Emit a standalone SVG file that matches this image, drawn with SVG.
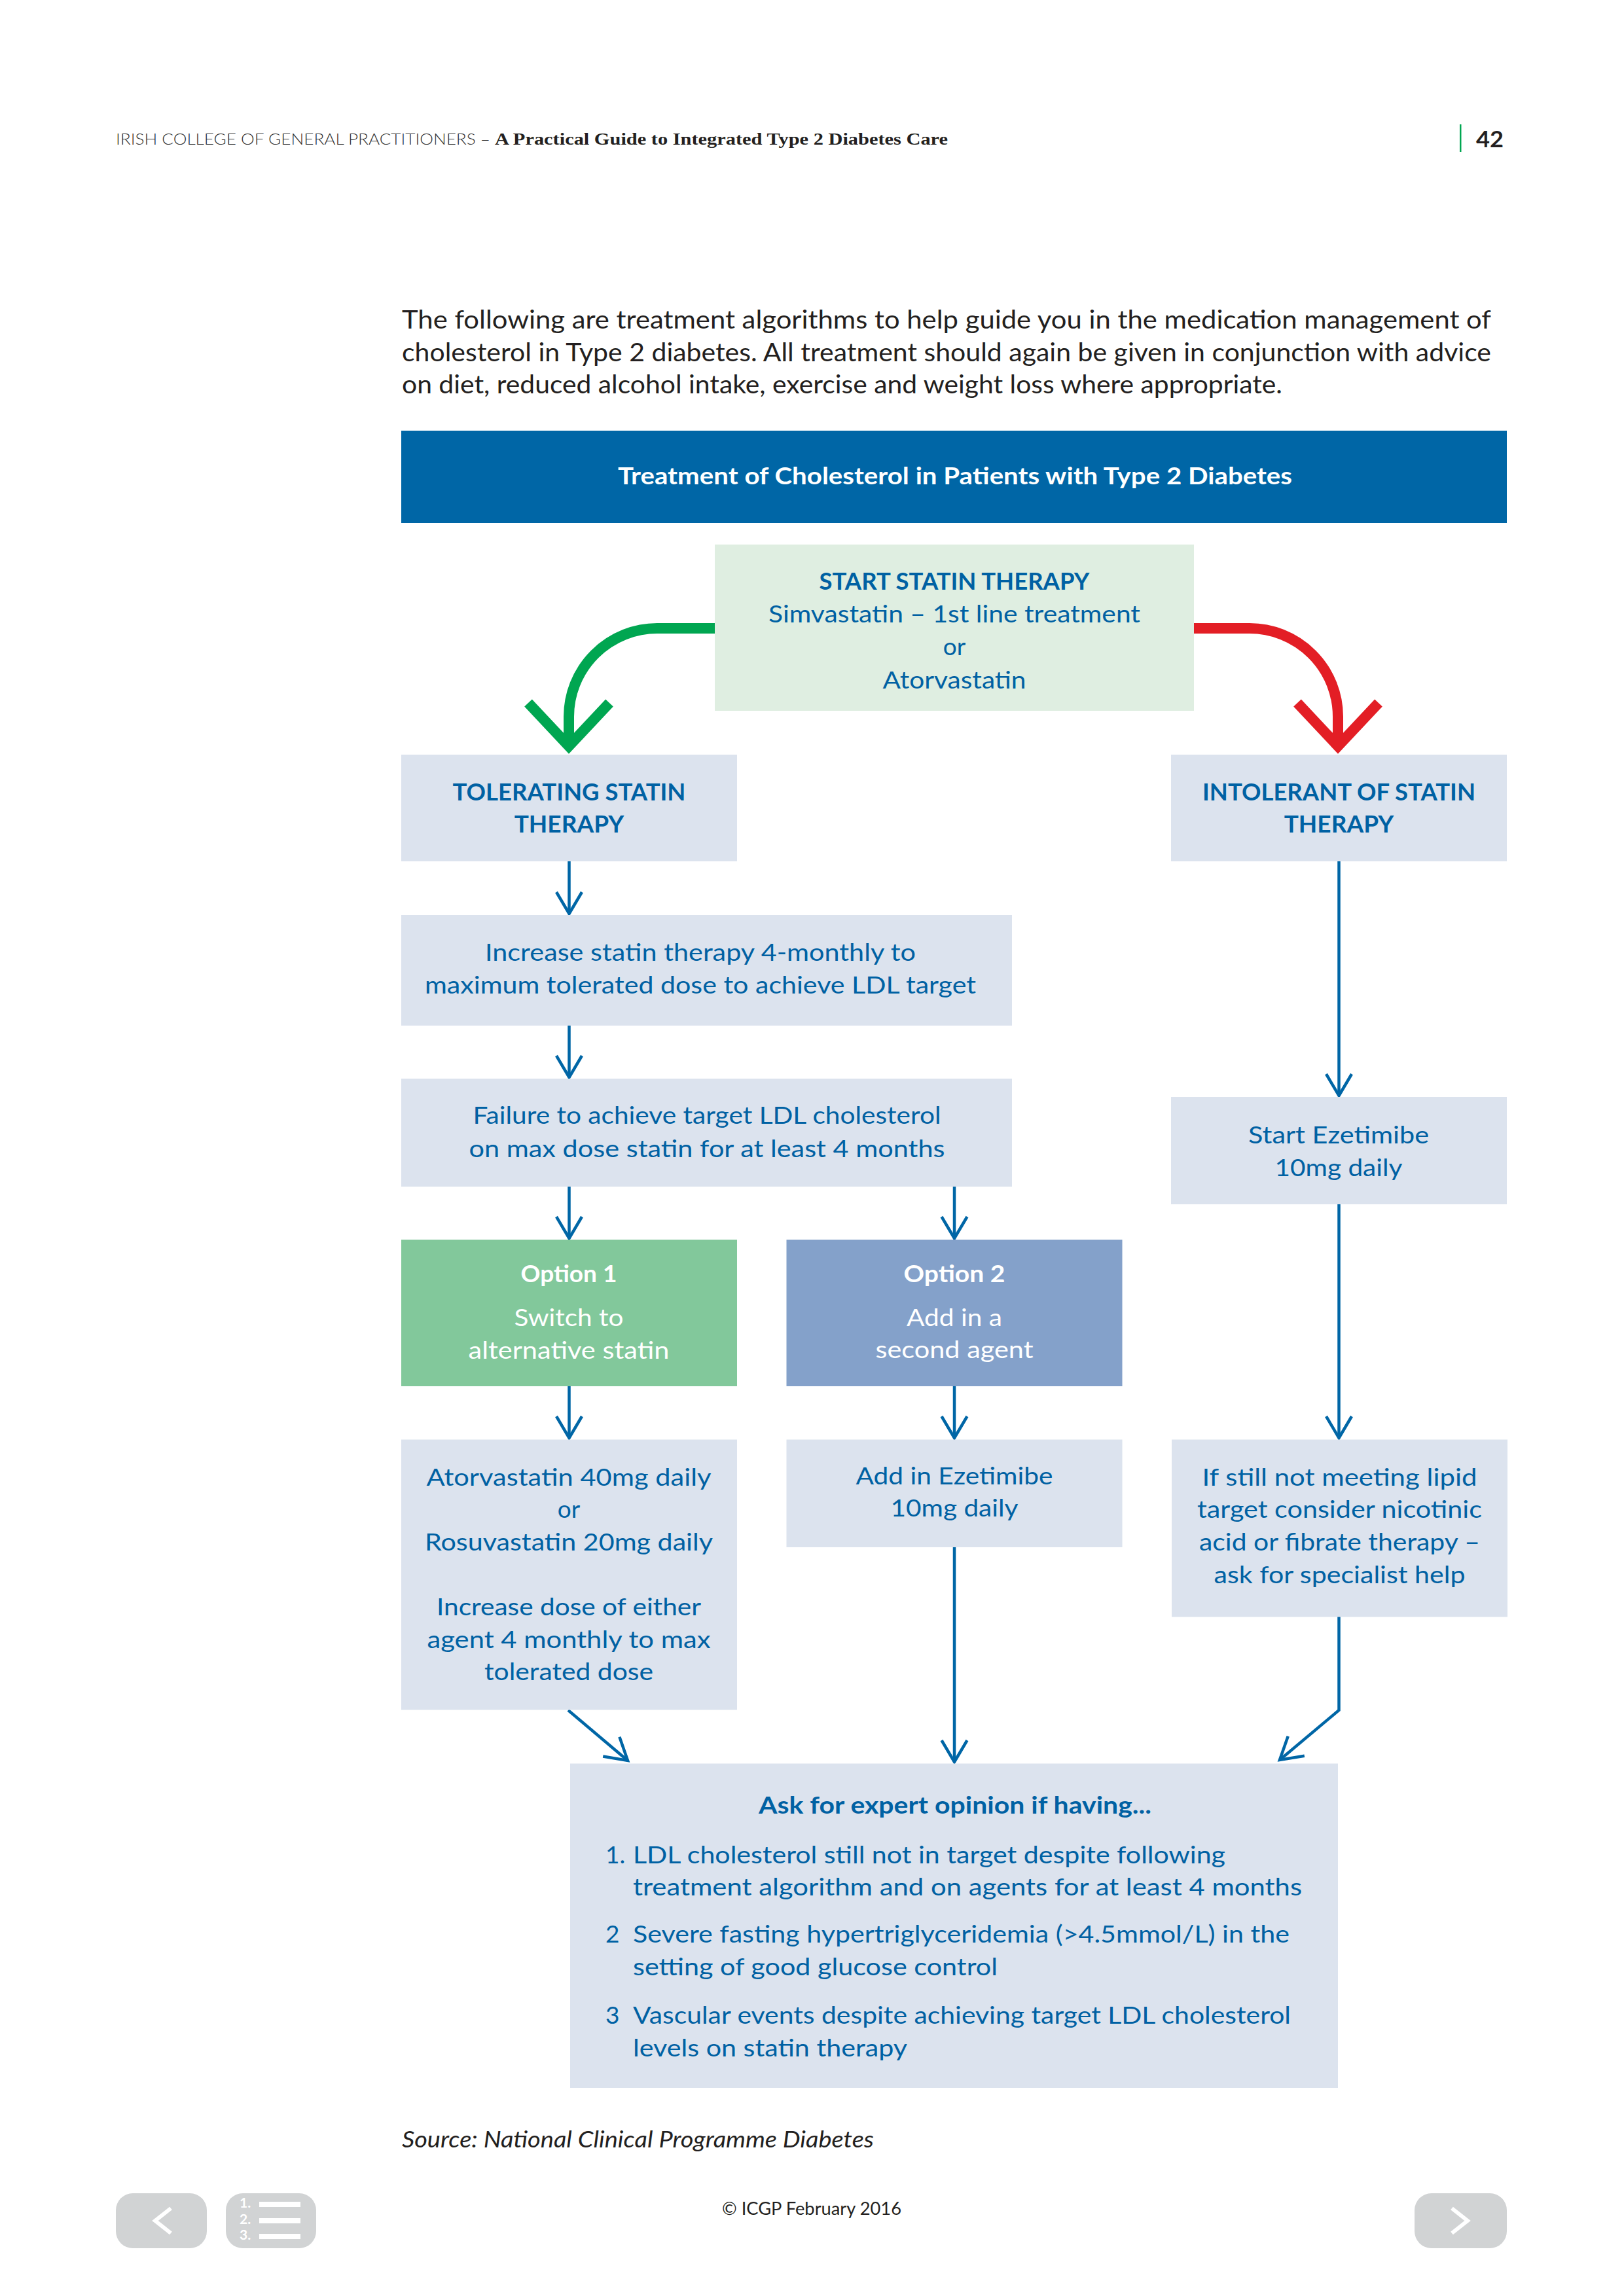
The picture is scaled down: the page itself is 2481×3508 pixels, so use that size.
<svg xmlns="http://www.w3.org/2000/svg" width="2481" height="3508" viewBox="0 0 2481 3508">
<defs>
<style>
.t{font-family:Lato,"Open Sans","Liberation Sans",sans-serif;font-size:37px;fill:#0061A3;text-anchor:middle}
.b{font-weight:bold}
.w{fill:#FFFFFF}
.l{text-anchor:start}
.box{fill:#DCE3EE}
.conn{stroke:#0066A6;stroke-width:4.5;fill:none}
.pill{fill:#D1D3D4}
</style>
<marker id="ah" markerUnits="userSpaceOnUse" markerWidth="50" markerHeight="50" viewBox="-40 -25 50 50" refX="0" refY="0" orient="auto" overflow="visible">
<path d="M-33,-19.5 L0,0 L-33,19.5" fill="none" stroke="#0066A6" stroke-width="4.5" stroke-linejoin="miter"/>
</marker>
</defs>
<rect width="2481" height="3508" fill="#FFFFFF"/>

<g id="header">
<text x="177" y="221" font-family="Lato,'Open Sans','Liberation Sans',sans-serif" font-weight="300" font-size="24" fill="#333333" textLength="572" lengthAdjust="spacingAndGlyphs">IRISH COLLEGE OF GENERAL PRACTITIONERS –</text>
<text x="756" y="221" font-family="'Liberation Serif',serif" font-weight="bold" font-size="26" fill="#231F20" textLength="692" lengthAdjust="spacingAndGlyphs">A Practical Guide to Integrated Type 2 Diabetes Care</text>
<rect x="2230" y="190" width="2.5" height="42" fill="#00A651"/>
<text x="2255" y="225" font-family="Lato,'Open Sans','Liberation Sans',sans-serif" font-weight="bold" font-size="34" fill="#231F20" textLength="42" lengthAdjust="spacingAndGlyphs">42</text>
</g>

<g id="intro" font-family="Lato,'Open Sans','Liberation Sans',sans-serif" font-size="38" fill="#231F20">
<text x="614" y="502" textLength="1664" lengthAdjust="spacingAndGlyphs">The following are treatment algorithms to help guide you in the medication management of</text>
<text x="614" y="552" textLength="1664" lengthAdjust="spacingAndGlyphs">cholesterol in Type 2 diabetes. All treatment should again be given in conjunction with advice</text>
<text x="614" y="601" textLength="1345" lengthAdjust="spacingAndGlyphs">on diet, reduced alcohol intake, exercise and weight loss where appropriate.</text>
</g>

<g id="title">
<rect x="613" y="658" width="1689" height="141" fill="#0066A6"/>
<text class="t b w" x="1459" y="740" font-size="36" textLength="1030" lengthAdjust="spacingAndGlyphs">Treatment of Cholesterol in Patients with Type 2 Diabetes</text>
</g>

<g id="connectors">
<path d="M1092,960 H1004 A135,135 0 0 0 869,1095 V1138" fill="none" stroke="#00A651" stroke-width="16"/>
<polyline points="807,1074 869,1140 931,1074" fill="none" stroke="#00A651" stroke-width="16" stroke-linejoin="miter" stroke-miterlimit="10"/>
<path d="M1824,960 H1909 A135,135 0 0 1 2044,1095 V1138" fill="none" stroke="#E31E25" stroke-width="16"/>
<polyline points="1982,1074 2044,1140 2106,1074" fill="none" stroke="#E31E25" stroke-width="16" stroke-linejoin="miter" stroke-miterlimit="10"/>
<line class="conn" x1="869.5" y1="1316" x2="869.5" y2="1396" marker-end="url(#ah)"/>
<line class="conn" x1="869.5" y1="1567" x2="869.5" y2="1646" marker-end="url(#ah)"/>
<line class="conn" x1="869.5" y1="1813" x2="869.5" y2="1892" marker-end="url(#ah)"/>
<line class="conn" x1="1458" y1="1813" x2="1458" y2="1892" marker-end="url(#ah)"/>
<line class="conn" x1="2045.5" y1="1316" x2="2045.5" y2="1674" marker-end="url(#ah)"/>
<line class="conn" x1="869.5" y1="2118" x2="869.5" y2="2197" marker-end="url(#ah)"/>
<line class="conn" x1="1458" y1="2118" x2="1458" y2="2197" marker-end="url(#ah)"/>
<line class="conn" x1="2045.5" y1="1840" x2="2045.5" y2="2197" marker-end="url(#ah)"/>
<path class="conn" d="M868,2613 L959,2690" marker-end="url(#ah)"/>
<line class="conn" x1="1458" y1="2364" x2="1458" y2="2692" marker-end="url(#ah)"/>
<path class="conn" d="M2045.5,2470 V2613 L1955,2689" marker-end="url(#ah)"/>
</g>

<g id="start">
<rect x="1092" y="832" width="732" height="254" fill="#DFEEE1"/>
<text class="t b" x="1458" y="901" font-size="36" textLength="413" lengthAdjust="spacingAndGlyphs">START STATIN THERAPY</text>
<text class="t" x="1458" y="951" textLength="568" lengthAdjust="spacingAndGlyphs">Simvastatin – 1st line treatment</text>
<text class="t" x="1458" y="1001">or</text>
<text class="t" x="1458" y="1052" textLength="219" lengthAdjust="spacingAndGlyphs">Atorvastatin</text>
</g>

<g id="tolerating">
<rect class="box" x="613" y="1153" width="513" height="163"/>
<text class="t b" x="869.5" y="1223" font-size="36" textLength="356" lengthAdjust="spacingAndGlyphs">TOLERATING STATIN</text>
<text class="t b" x="869.5" y="1272" font-size="36">THERAPY</text>
</g>

<g id="intolerant">
<rect class="box" x="1789" y="1153" width="513" height="163"/>
<text class="t b" x="2045.5" y="1223" font-size="36" textLength="417" lengthAdjust="spacingAndGlyphs">INTOLERANT OF STATIN</text>
<text class="t b" x="2045.5" y="1272" font-size="36">THERAPY</text>
</g>

<g id="increase">
<rect class="box" x="613" y="1398" width="933" height="169"/>
<text class="t" x="1070" y="1468" textLength="658" lengthAdjust="spacingAndGlyphs">Increase statin therapy 4-monthly to</text>
<text class="t" x="1070" y="1518" textLength="842" lengthAdjust="spacingAndGlyphs">maximum tolerated dose to achieve LDL target</text>
</g>

<g id="failure">
<rect class="box" x="613" y="1648" width="933" height="165"/>
<text class="t" x="1080" y="1717" textLength="715" lengthAdjust="spacingAndGlyphs">Failure to achieve target LDL cholesterol</text>
<text class="t" x="1080" y="1768" textLength="727" lengthAdjust="spacingAndGlyphs">on max dose statin for at least 4 months</text>
</g>

<g id="start-ezetimibe">
<rect class="box" x="1789" y="1676" width="513" height="164"/>
<text class="t" x="2045" y="1747" textLength="276" lengthAdjust="spacingAndGlyphs">Start Ezetimibe</text>
<text class="t" x="2045" y="1797" textLength="195" lengthAdjust="spacingAndGlyphs">10mg daily</text>
</g>

<g id="option1">
<rect x="613" y="1894" width="513" height="224" fill="#82C89B"/>
<text class="t b w" x="869" y="1959" textLength="147" lengthAdjust="spacingAndGlyphs">Option 1</text>
<text class="t w" x="869" y="2026" textLength="167" lengthAdjust="spacingAndGlyphs">Switch to</text>
<text class="t w" x="869" y="2076" textLength="307" lengthAdjust="spacingAndGlyphs">alternative statin</text>
</g>

<g id="option2">
<rect x="1201.5" y="1894" width="513" height="224" fill="#84A1CA"/>
<text class="t b w" x="1458" y="1959" textLength="155" lengthAdjust="spacingAndGlyphs">Option 2</text>
<text class="t w" x="1458" y="2026" textLength="146" lengthAdjust="spacingAndGlyphs">Add in a</text>
<text class="t w" x="1458" y="2075" textLength="241" lengthAdjust="spacingAndGlyphs">second agent</text>
</g>

<g id="alternative-statin">
<rect class="box" x="613" y="2199.5" width="513" height="413"/>
<text class="t" x="869" y="2270" textLength="435" lengthAdjust="spacingAndGlyphs">Atorvastatin 40mg daily</text>
<text class="t" x="869" y="2319">or</text>
<text class="t" x="869" y="2369" textLength="440" lengthAdjust="spacingAndGlyphs">Rosuvastatin 20mg daily</text>
<text class="t" x="869" y="2468" textLength="404" lengthAdjust="spacingAndGlyphs">Increase dose of either</text>
<text class="t" x="869" y="2518" textLength="433" lengthAdjust="spacingAndGlyphs">agent 4 monthly to max</text>
<text class="t" x="869" y="2567" textLength="258" lengthAdjust="spacingAndGlyphs">tolerated dose</text>
</g>

<g id="add-ezetimibe">
<rect class="box" x="1201.5" y="2199.5" width="513" height="164.5"/>
<text class="t" x="1458" y="2268" textLength="301" lengthAdjust="spacingAndGlyphs">Add in Ezetimibe</text>
<text class="t" x="1458" y="2317" textLength="195" lengthAdjust="spacingAndGlyphs">10mg daily</text>
</g>

<g id="still-not-meeting">
<rect class="box" x="1790" y="2199.5" width="513" height="271"/>
<text class="t" x="2046.5" y="2270" textLength="420" lengthAdjust="spacingAndGlyphs">If still not meeting lipid</text>
<text class="t" x="2046.5" y="2319" textLength="435" lengthAdjust="spacingAndGlyphs">target consider nicotinic</text>
<text class="t" x="2046.5" y="2369" textLength="429" lengthAdjust="spacingAndGlyphs">acid or fibrate therapy –</text>
<text class="t" x="2046.5" y="2419" textLength="384" lengthAdjust="spacingAndGlyphs">ask for specialist help</text>
</g>

<g id="expert-opinion">
<rect class="box" x="871" y="2694.5" width="1173" height="495.5"/>
<text class="t b" x="1459" y="2771" font-size="36" textLength="600" lengthAdjust="spacingAndGlyphs">Ask for expert opinion if having...</text>
<text class="t l" x="925" y="2847">1.</text>
<text class="t l" x="967" y="2847" textLength="905" lengthAdjust="spacingAndGlyphs">LDL cholesterol still not in target despite following</text>
<text class="t l" x="967" y="2896" textLength="1022" lengthAdjust="spacingAndGlyphs">treatment algorithm and on agents for at least 4 months</text>
<text class="t l" x="925" y="2968">2</text>
<text class="t l" x="967" y="2968" textLength="1003" lengthAdjust="spacingAndGlyphs">Severe fasting hypertriglyceridemia (&gt;4.5mmol/L) in the</text>
<text class="t l" x="967" y="3018" textLength="557" lengthAdjust="spacingAndGlyphs">setting of good glucose control</text>
<text class="t l" x="925" y="3092">3</text>
<text class="t l" x="967" y="3092" textLength="1005" lengthAdjust="spacingAndGlyphs">Vascular events despite achieving target LDL cholesterol</text>
<text class="t l" x="967" y="3142" textLength="419" lengthAdjust="spacingAndGlyphs">levels on statin therapy</text>
</g>

<g id="footer" font-family="Lato,'Open Sans','Liberation Sans',sans-serif" fill="#231F20">
<text x="614" y="3281" font-size="35" font-style="italic" textLength="721" lengthAdjust="spacingAndGlyphs">Source: National Clinical Programme Diabetes</text>
<text x="1240" y="3384" font-size="26" text-anchor="middle" textLength="274" lengthAdjust="spacingAndGlyphs">© ICGP February 2016</text>
</g>

<g id="nav-prev">
<rect class="pill" x="177" y="3351" width="139" height="84" rx="26"/>
<polyline points="261,3374 237,3393 261,3412" fill="none" stroke="#FFFFFF" stroke-width="6"/>
</g>
<g id="nav-contents">
<rect class="pill" x="345" y="3351" width="138" height="84" rx="26"/>
<g font-family="Lato,'Open Sans','Liberation Sans',sans-serif" font-size="21" fill="#FFFFFF" font-weight="bold">
<text x="366" y="3373">1.</text>
<text x="366" y="3398">2.</text>
<text x="366" y="3422">3.</text>
</g>
<rect x="396" y="3364" width="63" height="8" fill="#FFFFFF"/>
<rect x="396" y="3389" width="63" height="8" fill="#FFFFFF"/>
<rect x="396" y="3413" width="63" height="8" fill="#FFFFFF"/>
</g>
<g id="nav-next">
<rect class="pill" x="2161" y="3351" width="141" height="84" rx="26"/>
<polyline points="2218,3374 2242,3393 2218,3412" fill="none" stroke="#FFFFFF" stroke-width="6"/>
</g>
</svg>
